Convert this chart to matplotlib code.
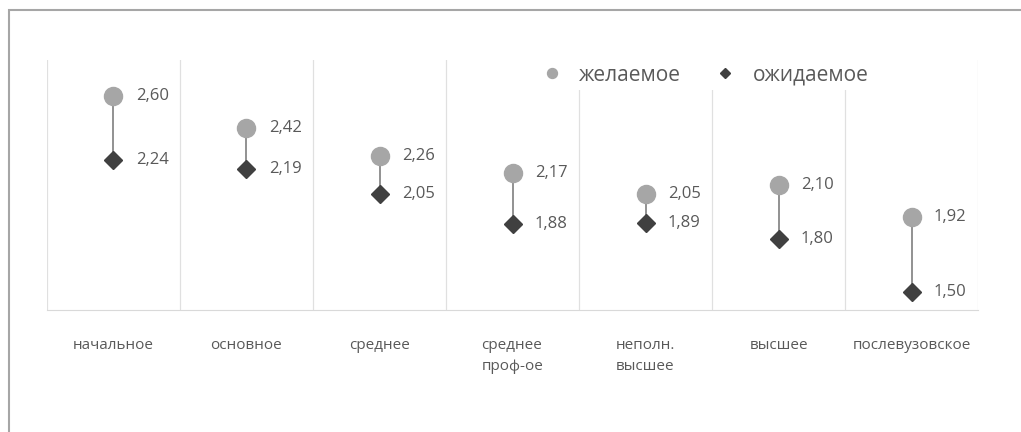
import numpy as np
import matplotlib.pyplot as plt
from matplotlib.patches import Rectangle

categories = ["начальное", "основное", "среднее", "среднее\nпроф-ое",
              "неполн.\nвысшее", "высшее", "послевузовское"]
desired = [2.60, 2.42, 2.26, 2.17, 2.05, 2.10, 1.92]
expected = [2.24, 2.19, 2.05, 1.88, 1.89, 1.80, 1.50]

plt.rcParams['font.family'] = ['Open Sans', 'DejaVu Sans']

fig = plt.figure(figsize=(10.21, 4.32), dpi=100)
ax = fig.add_axes([0.046, 0.2824, 0.912, 0.5787])

# outer frame of the chart
fig.patches.append(Rectangle((9 / 1021, -0.05), 1.1, 1 - 10 / 432 + 0.05,
                             transform=fig.transFigure, fill=False,
                             edgecolor="#a6a6a6", linewidth=1.5))

x = np.arange(len(categories))

# high-low lines
ax.vlines(x, expected, desired, color="#7f7f7f", linewidth=1.2, zorder=2)
ax.plot(x, desired, linestyle="none", marker="o", markersize=13,
        color="#a6a6a6", label="желаемое", zorder=3)
ax.plot(x, expected, linestyle="none", marker="D", markersize=9,
        color="#404040", label="ожидаемое", zorder=3)

for xi, d, e in zip(x, desired, expected):
    ax.annotate(f"{d:.2f}".replace(".", ","), (xi, d), xytext=(16, 0),
                textcoords="offset points", va="center", ha="left",
                fontsize=12, color="#595959")
    ax.annotate(f"{e:.2f}".replace(".", ","), (xi, e), xytext=(16, 0),
                textcoords="offset points", va="center", ha="left",
                fontsize=12, color="#595959")

ax.set_xlim(-0.5, len(categories) - 0.5)
ax.set_ylim(1.4, 2.8)
ax.set_yticks([])
ax.set_xticks(x)
ax.set_xticklabels(categories, fontsize=11, color="#595959",
                   multialignment="left", va="top", linespacing=1.6)
ax.tick_params(axis="x", length=0, pad=20)
ax.set_xticks(np.arange(-0.5, len(categories)), minor=True)
ax.tick_params(axis="x", which="minor", length=0)
ax.grid(True, which="minor", axis="x", color="#e0e0e0", linewidth=0.9)
for side in ["top", "right", "left"]:
    ax.spines[side].set_visible(False)
ax.spines["bottom"].set_color("#d9d9d9")

leg = ax.legend(loc="upper left", bbox_to_anchor=(0.515, 1.04), ncol=2,
                frameon=True, fontsize=15, markerscale=0.55,
                handlelength=1.0, columnspacing=1.65, borderpad=0.2)
leg.get_frame().set_edgecolor("none")
leg.get_frame().set_facecolor("white")
leg.get_frame().set_alpha(1)
for t in leg.get_texts():
    t.set_color("#595959")

fig.savefig("out.png", dpi=100)
